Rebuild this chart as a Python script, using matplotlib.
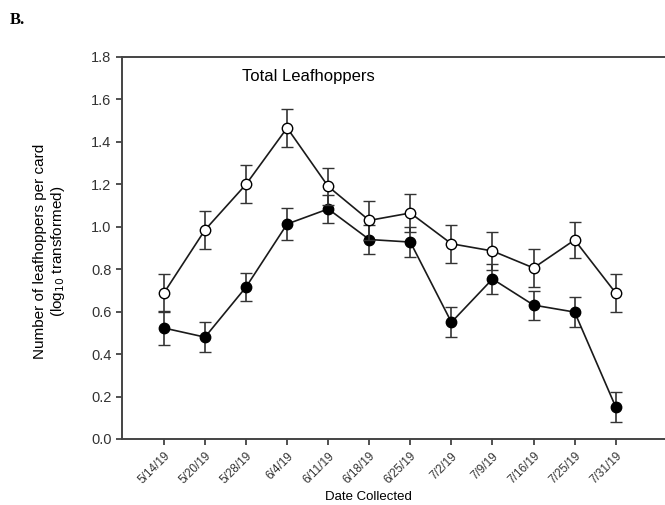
import matplotlib
matplotlib.use("Agg")
import matplotlib.pyplot as plt
import numpy as np

plt.rcParams['font.family'] = ['Liberation Sans', 'DejaVu Sans']

dates = ["5/14/19", "5/20/19", "5/28/19", "6/4/19", "6/11/19", "6/18/19",
         "6/25/19", "7/2/19", "7/9/19", "7/16/19", "7/25/19", "7/31/19"]
open_vals = [0.688, 0.985, 1.20, 1.466, 1.19, 1.03, 1.065, 0.92, 0.886, 0.806, 0.938, 0.688]
open_err = [0.09, 0.088, 0.09, 0.088, 0.088, 0.09, 0.088, 0.09, 0.088, 0.09, 0.085, 0.09]
filled_vals = [0.523, 0.48, 0.716, 1.013, 1.084, 0.94, 0.928, 0.55, 0.754, 0.631, 0.598, 0.151]
filled_err = [0.08, 0.07, 0.068, 0.075, 0.068, 0.068, 0.07, 0.07, 0.07, 0.068, 0.07, 0.07]

fig = plt.figure(figsize=(6.65, 5.05), dpi=100)
ax = fig.add_axes([122/665, 1-439/505, 1-122/665, (439-57)/505])

x = np.arange(len(dates))
common = dict(color='#1a1a1a', ecolor='#333333', elinewidth=1.2, capsize=4.5,
              capthick=1.2, markersize=7.5, linewidth=1.2, markeredgewidth=1.0,
              markeredgecolor='black')
ax.errorbar(x, filled_vals, yerr=filled_err, fmt='-o', markerfacecolor='black', zorder=2, **common)
ax.errorbar(x, open_vals, yerr=open_err, fmt='-o', markerfacecolor='white', zorder=3, **common)

ax.set_xlim(-1.02, 12.2)
ax.set_ylim(0, 1.8)
ax.set_yticks(np.arange(0, 1.81, 0.2))
ax.set_yticklabels([f"{v:.1f}" for v in np.arange(0, 1.81, 0.2)], fontsize=10.5, color='#222222')
ax.set_xticks(x)
ax.set_xticklabels(dates, rotation=45, ha='right', rotation_mode='anchor', fontsize=8.5, color='#222222')
ax.tick_params(axis='both', direction='out', length=4, width=1.2, colors='#333333')
ax.tick_params(axis='x', pad=4)
for s in ['left', 'bottom', 'top']:
    ax.spines[s].set_linewidth(1.4)
    ax.spines[s].set_color('#444444')
ax.spines['right'].set_visible(False)

fig.text(308/665, 1-77/505, "Total Leafhoppers", fontsize=12, ha='center', va='center')
fig.text(368/665, 1-497/505, "Date Collected", fontsize=9.5, ha='center', va='center')
fig.text(50/665, 1-251/505, "Number of leafhoppers per card\n(log$_{10}$ transformed)",
         rotation=90, fontsize=11, ha='center', va='center', linespacing=1.1)
fig.text(10/665, 1-20/505, "B.", fontsize=12, fontweight='bold', family='Liberation Serif',
         ha='left', va='center')

fig.savefig("out.png", dpi=100)
